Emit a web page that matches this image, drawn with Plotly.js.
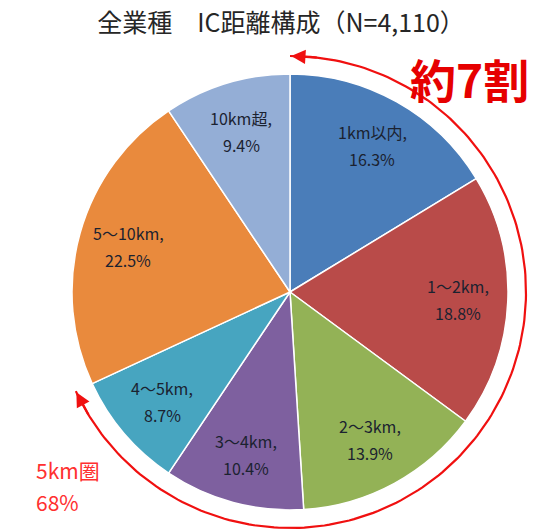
<!DOCTYPE html>
<html>
<head>
<meta charset="utf-8">
<script src="https://cdn.plot.ly/plotly-3.0.1.min.js"></script>
<style>html,body{margin:0;padding:0;background:#fff;}#chart{width:548px;height:531px;}</style>
</head>
<body>
<div id="chart"></div>
<script>
// ---- data ----
const categories = ['1km以内', '1～2km', '2～3km', '3～4km', '4～5km', '5～10km', '10km超'];
const values = [16.3, 18.8, 13.9, 10.4, 8.7, 22.5, 9.4];
const colors = ['#4A7DB9', '#B94B49', '#93B256', '#7E609F', '#47A5C0', '#E98A3D', '#94AED6'];
const titleText = '全業種　IC距離構成（N=4,110）';
const bigNote = '約7割';
const sideNote = ['5km圏', '68%'];
const innerCount = 5; // first five categories make up the "5km圏"

// ---- geometry (pixels) ----
const W = 548, H = 531;
const cx = 290, cy = 292, R = 218, Rarc = 236, Rlab = 0.77 * R;
const FONT = '"Noto Sans CJK JP", "Noto Sans", sans-serif';
const LABEL_COLOR = '#1b2230';

const total = values.reduce((a, b) => a + b, 0);

// arc spanning the share of the first five categories
const innerShare = values.slice(0, innerCount).reduce((a, b) => a + b, 0) / total;
const thetaEnd = innerShare * 2 * Math.PI;
const ax = [], ay = [];
const N = 200;
for (let i = 0; i <= N; i++) {
  const t = thetaEnd * i / N;
  ax.push(cx + Rarc * Math.sin(t));
  ay.push(cy - Rarc * Math.cos(t));
}
function pt(t, r) { return [cx + r * Math.sin(t), cy - r * Math.cos(t)]; }
const tipA = pt(0.005, Rarc), tailA = pt(0.12, Rarc);
const tipB = pt(thetaEnd - 0.005, Rarc), tailB = pt(thetaEnd - 0.12, Rarc);

// slice labels placed along each slice's mid-angle
const labelAnns = [];
let cum = 0;
values.forEach((v, i) => {
  const mid = (cum + v / 2) / total * 2 * Math.PI;
  cum += v;
  const p = pt(mid, Rlab);
  labelAnns.push({ x: p[0], y: p[1] - 13.5, xref: 'x', yref: 'y', text: categories[i] + ',', showarrow: false,
    font: { family: FONT, size: 16, color: LABEL_COLOR }, xanchor: 'center', yanchor: 'middle' });
  labelAnns.push({ x: p[0], y: p[1] + 13.5, xref: 'x', yref: 'y', text: v.toFixed(1) + '%', showarrow: false,
    font: { family: FONT, size: 16, color: LABEL_COLOR }, xanchor: 'center', yanchor: 'middle' });
});

const pie = {
  type: 'pie',
  labels: categories,
  values: values,
  sort: false,
  direction: 'clockwise',
  rotation: 0,
  marker: { colors: colors, line: { color: '#ffffff', width: 1.5 } },
  textinfo: 'none',
  hoverinfo: 'none',
  showlegend: false,
  domain: { x: [(cx - R) / W, (cx + R) / W], y: [1 - (cy + R) / H, 1 - (cy - R) / H] }
};

const arc = {
  type: 'scatter', mode: 'lines', x: ax, y: ay,
  line: { color: '#F01010', width: 2.2 }, hoverinfo: 'none', showlegend: false
};

const layout = {
  width: W, height: H,
  margin: { l: 0, r: 0, t: 0, b: 0 },
  paper_bgcolor: '#ffffff', plot_bgcolor: 'rgba(0,0,0,0)',
  showlegend: false,
  title: { text: titleText, x: 281 / W, xanchor: 'center', y: 1 - 23 / H, yanchor: 'middle',
           font: { family: FONT, size: 25, color: '#262626' } },
  xaxis: { range: [0, W], visible: false, fixedrange: true },
  yaxis: { range: [H, 0], visible: false, fixedrange: true },
  annotations: labelAnns.concat([
    { x: tipA[0], y: tipA[1], ax: tailA[0], ay: tailA[1], axref: 'x', ayref: 'y', xref: 'x', yref: 'y',
      text: '', showarrow: true, arrowhead: 2, arrowsize: 1.3, arrowwidth: 2.2, arrowcolor: '#F01010', standoff: 0 },
    { x: tipB[0], y: tipB[1], ax: tailB[0], ay: tailB[1], axref: 'x', ayref: 'y', xref: 'x', yref: 'y',
      text: '', showarrow: true, arrowhead: 2, arrowsize: 1.3, arrowwidth: 2.2, arrowcolor: '#F01010', standoff: 0 },
    { x: 469, y: 78, xref: 'x', yref: 'y', text: '<b>' + bigNote + '</b>', showarrow: false,
      font: { family: FONT, size: 46, color: '#E60000' }, xanchor: 'center', yanchor: 'middle' },
    { x: 34, y: 470, xref: 'x', yref: 'y', text: sideNote[0], showarrow: false,
      font: { family: FONT, size: 21, color: '#FF3030' }, xanchor: 'left', yanchor: 'middle' },
    { x: 34, y: 502, xref: 'x', yref: 'y', text: sideNote[1], showarrow: false,
      font: { family: FONT, size: 21, color: '#FF3030' }, xanchor: 'left', yanchor: 'middle' }
  ])
};

Plotly.newPlot('chart', [pie, arc], layout, { displayModeBar: false, staticPlot: true });
</script>
</body>
</html>
